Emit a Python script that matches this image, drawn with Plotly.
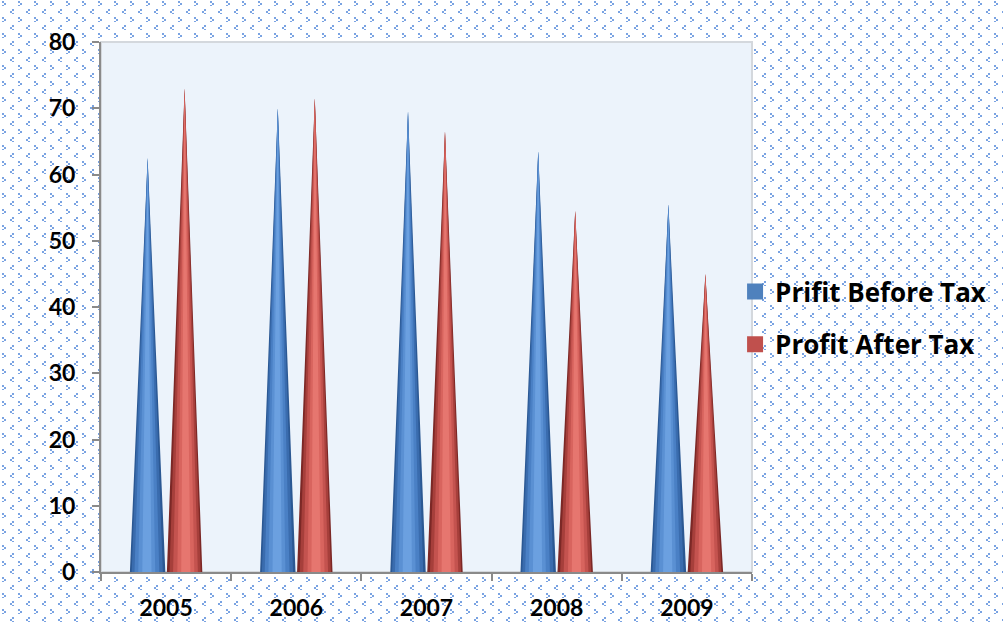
import base64
import plotly.graph_objects as go

# ---- data ----
years = ["2005", "2006", "2007", "2008", "2009"]
profit_before_tax = [62.5, 70, 69.5, 63.5, 55.5]
profit_after_tax = [73, 71.5, 66.5, 54.5, 45]
y_ticks = [0, 10, 20, 30, 40, 50, 60, 70, 80]

# ---- style ----
W, H = 1003, 625
ML, MR, MT, MB = 101, 251, 42, 53
FONT = "Lato"
LEG_FONT = "Open Sans"
HALF_W = 0.136
OFFSET = 0.142
blue_layers = [(1.00, 0.00, "#2b5893"), (0.88, -0.02, "#3a6cae"), (0.70, -0.04, "#4a80c5"),
               (0.48, -0.05, "#5a90d3"), (0.26, -0.04, "#6ba0e0")]
red_layers = [(1.00, 0.00, "#7c2826"), (0.88, 0.03, "#a63f3b"), (0.70, 0.05, "#c4534f"),
              (0.48, 0.07, "#d8645e"), (0.26, 0.07, "#e6766f")]

fig = go.Figure()


def add_cones(values, shift, layers):
    for frac, sh, color in layers:
        xs, ys = [], []
        for i, v in enumerate(values):
            c = i + shift
            hw = HALF_W * frac
            bc = c + sh * HALF_W
            xs += [bc - hw, c, bc + hw, bc - hw, None]
            ys += [0, v, 0, 0, None]
        fig.add_trace(go.Scatter(x=xs, y=ys, mode="lines", fill="toself",
                                 fillcolor=color, line=dict(width=0, color=color),
                                 hoverinfo="skip", showlegend=False))


add_cones(profit_before_tax, -OFFSET, blue_layers)
add_cones(profit_after_tax, OFFSET, red_layers)

# legend entries
fig.add_trace(go.Scatter(x=[None], y=[None], mode="markers", name="Prifit Before Tax",
                         marker=dict(symbol="square", size=18, color="#4f81bd"),
                         legendgroup="a"))
fig.add_trace(go.Scatter(x=[None], y=[None], mode="markers", name="Profit After Tax",
                         marker=dict(symbol="square", size=18, color="#c0504d"),
                         legendgroup="b"))

# background pattern (chevron dots)
svg = f'''<svg xmlns="http://www.w3.org/2000/svg" width="{W}" height="{H}">
<defs><pattern id="p" width="16" height="16" patternUnits="userSpaceOnUse">
<g fill="#7aa3e2" shape-rendering="crispEdges">
<rect x="2" y="1" width="1.8" height="1.8"/><rect x="3.8" y="2.8" width="1.8" height="1.8"/><rect x="2" y="4.6" width="1.8" height="1.8"/>
<rect x="11.8" y="9" width="1.8" height="1.8"/><rect x="10" y="10.8" width="1.8" height="1.8"/><rect x="11.8" y="12.6" width="1.8" height="1.8"/>
</g></pattern></defs>
<rect width="{W}" height="{H}" fill="white"/>
<rect width="{W}" height="{H}" fill="url(#p)"/>
</svg>'''
src = "data:image/svg+xml;base64," + base64.b64encode(svg.encode()).decode()
pw, ph = W - ML - MR, H - MT - MB
fig.add_layout_image(dict(source=src, xref="paper", yref="paper",
                          x=-ML / pw, y=1 + MT / ph, sizex=W / pw, sizey=H / ph,
                          xanchor="left", yanchor="top", sizing="stretch", layer="below"))
# plot area background + frame
fig.add_shape(type="rect", xref="paper", yref="paper", x0=0, x1=1, y0=0, y1=1,
              fillcolor="#ecf3fb", line=dict(color="#d4d8dd", width=2), layer="below")

fig.update_layout(
    width=W, height=H,
    margin=dict(l=ML, r=MR, t=MT, b=MB, pad=0, autoexpand=False),
    paper_bgcolor="white",
    plot_bgcolor="rgba(0,0,0,0)",
    font=dict(family=FONT, size=23, color="black", weight="bold"),
    showlegend=True,
    legend=dict(x=0.974, xanchor="left", y=0.479, yanchor="middle",
                font=dict(family=LEG_FONT, size=26, color="black", weight="bold"),
                bgcolor="rgba(0,0,0,0)", tracegroupgap=16, traceorder="grouped",
                itemwidth=30),
    xaxis=dict(range=[-0.5, len(years) - 0.5],
               tickvals=list(range(len(years))), ticktext=years,
               ticks="", ticklabelstandoff=14, automargin=False,
               showgrid=False, zeroline=False,
               showline=True, linecolor="#8a8a8a", linewidth=2,
               minor=dict(tickvals=[i - 0.5 for i in range(len(years) + 1)],
                          ticks="outside", ticklen=7, tickcolor="#8a8a8a", tickwidth=2,
                          showgrid=False),
               fixedrange=True),
    yaxis=dict(range=[0, 80], tickvals=y_ticks, ticks="outside", ticklen=7,
               tickcolor="#8a8a8a", tickwidth=2, ticklabelstandoff=12, automargin=False,
               showgrid=False, zeroline=False,
               showline=True, linecolor="#8a8a8a", linewidth=2, fixedrange=True),
)

fig.write_html("out.html", post_script="document.body.style.margin='0px';",
               config={"displayModeBar": False})
